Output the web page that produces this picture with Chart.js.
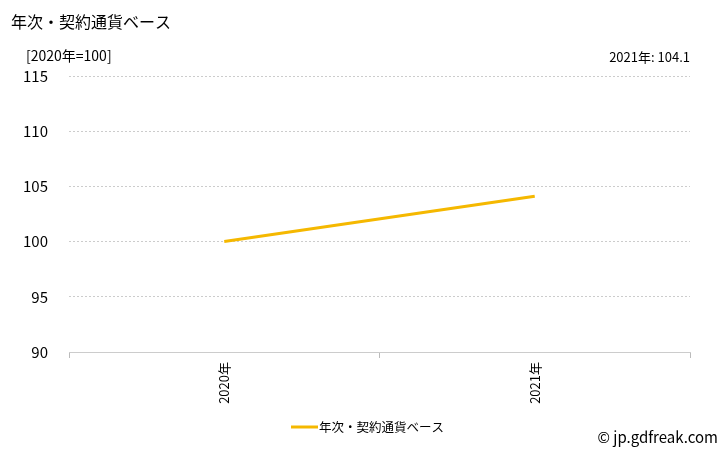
<!DOCTYPE html>
<html><head><meta charset="utf-8">
<script src="https://cdn.jsdelivr.net/npm/chart.js@4"></script>
<style>html,body{margin:0;padding:0;background:#fff}#wrap{width:728px;height:450px;position:relative}</style>
</head><body><div id="wrap"><canvas id="c" width="728" height="450"></canvas></div>
<script>
const categories = ["2020年", "2021年"];
const seriesName = "年次・契約通貨ベース";
const values = [100, 104.1];
const yTicks = [90, 95, 100, 105, 110, 115];
const titleText = "年次・契約通貨ベース";
const unitText = "[2020年=100]";
const latestText = "2021年: 104.1";
const creditText = "© jp.gdfreak.com";

const FONT = "'Noto Sans CJK JP', 'Noto Sans', sans-serif";
const LINE_COLOR = '#f5b800';

const textPlugin = {
  id: 'texts',
  afterDraw(chart) {
    const ctx = chart.ctx;
    const ds = chart.data.datasets[0];
    ctx.save();
    ctx.fillStyle = '#000';
    ctx.textBaseline = 'middle';
    ctx.font = "16px " + FONT;
    ctx.textAlign = 'left';
    ctx.fillText(titleText, 11, 22);
    ctx.font = "14px " + FONT;
    ctx.fillText(unitText, 26, 56);
    ctx.font = "13px " + FONT;
    ctx.textAlign = 'right';
    ctx.fillText(latestText, chart.chartArea.right, 57);
    ctx.font = "15px " + FONT;
    ctx.fillText(creditText, 718, 437);
    // legend
    ctx.strokeStyle = ds.borderColor;
    ctx.lineWidth = 3;
    ctx.beginPath();
    ctx.moveTo(291, 427);
    ctx.lineTo(318, 427);
    ctx.stroke();
    ctx.textAlign = 'left';
    ctx.font = "12.5px " + FONT;
    ctx.fillText(ds.label, 319, 427);
    ctx.restore();
  }
};

new Chart(document.getElementById('c'), {
  type: 'line',
  data: {
    labels: categories,
    datasets: [{
      label: seriesName,
      data: values,
      borderColor: LINE_COLOR,
      backgroundColor: LINE_COLOR,
      borderWidth: 3,
      pointRadius: 0,
      tension: 0
    }]
  },
  options: {
    responsive: false,
    animation: false,
    layout: { padding: { left: 0, right: 38, top: 76, bottom: 38 } },
    scales: {
      x: {
        offset: true,
        grid: { display: true, drawOnChartArea: false, drawTicks: true, tickLength: 6, color: '#bbb', offset: true },
        border: { display: true, color: '#ccc', dash: [2, 2] },
        ticks: { maxRotation: 90, minRotation: 90, color: '#000', font: { family: FONT, size: 13 }, padding: 4 },
        afterFit(s) { s.height = 60; }
      },
      y: {
        min: 90, max: 115,
        afterBuildTicks(s) { s.ticks = yTicks.map(v => ({ value: v })); },
        grid: { color: '#ccc', drawTicks: false },
        border: { display: false, dash: [2, 2] },
        ticks: { color: '#000', font: { family: FONT, size: 15 }, padding: 21 },
        afterFit(s) { s.width = 69; }
      }
    },
    plugins: {
      legend: { display: false },
      tooltip: { enabled: false }
    }
  },
  plugins: [textPlugin]
});
</script></body></html>
